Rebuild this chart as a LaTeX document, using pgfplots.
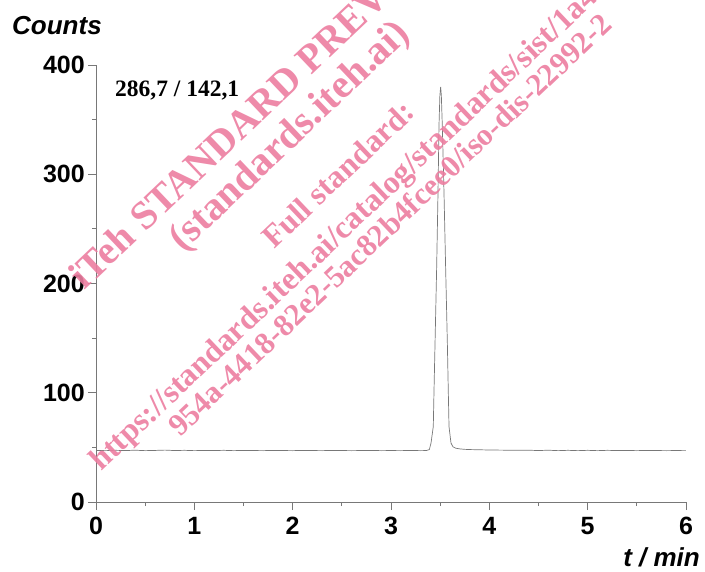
\documentclass[border=0pt]{standalone}
\usepackage{fontspec}
\setmainfont{Liberation Sans}
\newfontfamily\wmfont{Liberation Serif}
\usepackage{pgfplots}
\pgfplotsset{compat=1.18}
\definecolor{wmpink}{RGB}{236,125,160}
\definecolor{trace}{RGB}{120,120,120}
\begin{document}
\begin{tikzpicture}[x=1pt,y=1pt]
\path[use as bounding box] (0,0) rectangle (705,571);
\begin{axis}[
  at={(96pt,69pt)}, anchor=south west,
  scale only axis, width=590pt, height=437pt,
  xmin=0, xmax=6, ymin=0, ymax=400,
  axis x line=bottom, axis y line=left,
  axis line style={-, draw=trace, line width=0.8pt},
  xtick={0,...,6}, ytick={0,100,...,400},
  minor x tick num=1, minor y tick num=1,
  tick align=outside, major tick length=8pt, minor tick length=4pt,
  tick style={draw=trace, line width=0.8pt},
  tick label style={font=\fontsize{25}{25}\selectfont\bfseries, inner sep=3pt},
  xticklabel style={yshift=-4pt},
  /pgf/number format/assume math mode=true,
]
\addplot[trace, line width=0.7pt] coordinates {
(0,47.2)(0.1,47.0)(0.2,47.3)(0.3,47.1)(0.4,47.4)(0.5,47.0)(0.6,47.2)(0.7,47.5)
(0.8,47.1)(0.9,47.3)(1.0,47.0)(1.1,47.2)(1.2,47.1)(1.3,47.3)(1.4,47.0)(1.5,47.2)
(1.6,47.1)(1.7,47.0)(1.8,47.2)(1.9,47.1)(2.0,47.0)(2.1,47.2)(2.2,47.1)(2.3,47.0)
(2.4,47.2)(2.5,47.1)(2.6,47.0)(2.7,47.1)(2.8,47.2)(2.9,47.0)(3.0,47.1)(3.1,47.0)
(3.2,47.2)(3.3,47.0)(3.36,47.1)(3.39,48)(3.407,54)(3.43,69)(3.437,100)(3.448,146)
(3.464,213)(3.478,283)(3.488,344)(3.497,372)(3.505,380)(3.512,372)(3.522,344)
(3.539,283)(3.556,213)(3.573,146)(3.583,100)(3.590,69)(3.61,54)(3.63,50.5)
(3.66,49.2)(3.7,48.6)(3.75,48.2)(3.8,48.0)(3.9,47.8)(4.0,47.6)(4.1,47.5)(4.2,47.4)
(4.3,47.3)(4.4,47.4)(4.5,47.1)(4.6,47.4)(4.7,47.0)(4.8,47.3)(4.9,47.0)(5.0,47.3)
(5.1,47.0)(5.2,47.3)(5.3,47.1)(5.4,47.2)(5.5,47.0)(5.6,47.2)(5.7,47.1)(5.8,47.0)
(5.9,47.1)(6.0,47.0)};
\end{axis}
\node[anchor=base west, inner sep=0, font=\fontsize{26}{26}\selectfont\bfseries\itshape] at (12,536) {Counts};
\node[anchor=base east, inner sep=0, font=\fontsize{26}{26}\selectfont\bfseries\itshape] at (700,5) {t / min};
\node[anchor=base west, inner sep=0, font=\wmfont\fontsize{23.5}{23.5}\selectfont\bfseries] at (115,474) {286,7 / 142,1};
\begin{scope}[every node/.style={anchor=base west, inner sep=0, rotate=43.5, text=wmpink, text opacity=0.9}]
\node[font=\wmfont\fontsize{40}{40}\selectfont\bfseries] at (84,280) {iTeh STANDARD PREVIEW};
\node[font=\wmfont\fontsize{40.5}{40.5}\selectfont\bfseries] at (183,318) {(standards.iteh.ai)};
\node[font=\wmfont\fontsize{32}{32}\selectfont\bfseries] at (274,321) {Full standard:};
\node[font=\wmfont\fontsize{32}{32}\selectfont\bfseries] at (101,99) {https://standards.iteh.ai/catalog/standards/sist/1a4b};
\node[font=\wmfont\fontsize{31}{31}\selectfont\bfseries] at (180,133) {954a-4418-82e2-5ac82b4fcee0/iso-dis-22992-2};
\end{scope}
\end{tikzpicture}
\end{document}
